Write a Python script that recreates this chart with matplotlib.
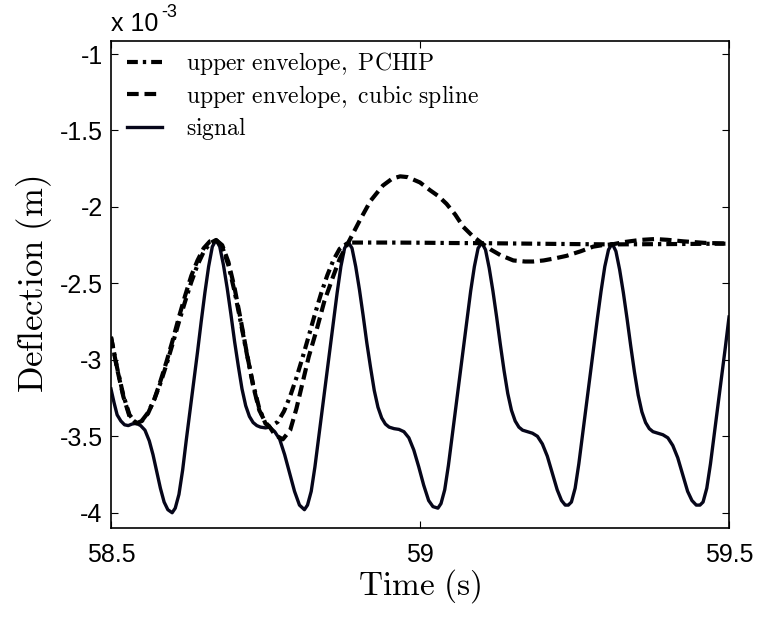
import matplotlib
matplotlib.use("Agg")
import matplotlib.pyplot as plt

plt.rcParams['mathtext.fontset'] = 'cm'
plt.rcParams['font.family'] = ['Liberation Sans', 'DejaVu Sans']

# deflection values are in units of 1e-3 m
signal_t = [
    58.500, 58.505, 58.510, 58.516, 58.522, 58.528, 58.534, 58.541, 58.548, 58.555,
    58.562, 58.568, 58.574, 58.580, 58.586, 58.592, 58.599,
    58.604, 58.610, 58.616, 58.622, 58.628, 58.634, 58.640, 58.646, 58.652, 58.658, 58.664, 58.670,
    58.676, 58.682, 58.688, 58.694, 58.700, 58.706, 58.712, 58.718, 58.724, 58.730, 58.736, 58.742,
    58.750, 58.757, 58.765, 58.773, 58.781, 58.789, 58.797, 58.805, 58.813,
    58.818, 58.824, 58.830, 58.836, 58.842, 58.848, 58.854, 58.860, 58.866, 58.872, 58.878, 58.884,
    58.890, 58.896, 58.902, 58.908, 58.914, 58.920, 58.926, 58.932, 58.938, 58.944, 58.950, 58.958,
    58.966, 58.974, 58.982, 58.990, 58.998, 59.006, 59.014, 59.021, 59.029,
    59.034, 59.040, 59.046, 59.052, 59.058, 59.064, 59.070, 59.076, 59.082, 59.088, 59.094, 59.100,
    59.106, 59.112, 59.118, 59.124, 59.130, 59.136, 59.142, 59.148, 59.154, 59.160, 59.166, 59.174,
    59.182, 59.190, 59.198, 59.206, 59.214, 59.222, 59.229, 59.235, 59.240,
    59.245, 59.251, 59.257, 59.263, 59.269, 59.275, 59.281, 59.287, 59.293, 59.299, 59.305, 59.311,
    59.317, 59.323, 59.329, 59.335, 59.341, 59.347, 59.353, 59.359, 59.365, 59.371, 59.377, 59.385,
    59.393, 59.401, 59.409, 59.417, 59.425, 59.433, 59.440, 59.447, 59.453,
    59.458, 59.464, 59.470, 59.476, 59.482, 59.488, 59.494, 59.500,
]
signal_v = [
    -3.19, -3.28, -3.36, -3.40, -3.425, -3.43, -3.42, -3.415, -3.43, -3.46,
    -3.53, -3.62, -3.73, -3.84, -3.93, -3.98, -4.00,
    -3.97, -3.88, -3.72, -3.52, -3.33, -3.14, -2.95, -2.75, -2.56, -2.39, -2.26, -2.216,
    -2.26, -2.38, -2.53, -2.70, -2.88, -3.04, -3.19, -3.30, -3.37, -3.41, -3.43, -3.44,
    -3.445, -3.44, -3.47, -3.52, -3.62, -3.74, -3.86, -3.95, -3.98,
    -3.95, -3.86, -3.70, -3.51, -3.32, -3.13, -2.94, -2.75, -2.56, -2.39, -2.27, -2.23,
    -2.27, -2.39, -2.54, -2.71, -2.89, -3.05, -3.20, -3.31, -3.38, -3.42, -3.44, -3.45,
    -3.455, -3.47, -3.51, -3.59, -3.70, -3.82, -3.92, -3.96, -3.97,
    -3.94, -3.85, -3.69, -3.50, -3.31, -3.12, -2.93, -2.74, -2.55, -2.39, -2.27, -2.235,
    -2.28, -2.40, -2.55, -2.72, -2.90, -3.07, -3.22, -3.33, -3.40, -3.44, -3.46, -3.47,
    -3.48, -3.50, -3.55, -3.63, -3.74, -3.85, -3.92, -3.95, -3.95,
    -3.93, -3.84, -3.68, -3.49, -3.30, -3.11, -2.92, -2.73, -2.55, -2.39, -2.28, -2.24,
    -2.29, -2.41, -2.56, -2.73, -2.91, -3.08, -3.23, -3.34, -3.41, -3.45, -3.47, -3.48,
    -3.49, -3.51, -3.56, -3.64, -3.75, -3.86, -3.92, -3.95, -3.95,
    -3.93, -3.84, -3.68, -3.49, -3.30, -3.11, -2.92, -2.72,
]

pchip_t = [
    58.500, 58.510, 58.520, 58.530, 58.541, 58.550, 58.560, 58.570, 58.580, 58.590,
    58.600, 58.610, 58.620, 58.630, 58.640, 58.650, 58.660, 58.670,
    58.680, 58.690, 58.700, 58.710, 58.720, 58.730, 58.740, 58.750, 58.757,
    58.770, 58.780, 58.790, 58.800, 58.810, 58.820, 58.830, 58.840, 58.850, 58.860, 58.870, 58.884,
    58.950, 59.000, 59.050, 59.100, 59.150, 59.200, 59.250, 59.311, 59.400, 59.500,
]
pchip_v = [
    -2.850, -3.053, -3.232, -3.360, -3.415, -3.398, -3.345, -3.260, -3.153, -3.028,
    -2.892, -2.752, -2.618, -2.491, -2.380, -2.294, -2.238, -2.216,
    -2.261, -2.381, -2.553, -2.755, -2.965, -3.160, -3.319, -3.417, -3.440,
    -3.405, -3.336, -3.237, -3.118, -2.985, -2.844, -2.701, -2.566, -2.447, -2.347, -2.274, -2.233,
    -2.233, -2.234, -2.236, -2.237, -2.239, -2.241, -2.243, -2.245, -2.243, -2.240,
]

spline_t = [
    58.500, 58.510, 58.520, 58.530, 58.541, 58.550, 58.560, 58.570, 58.580, 58.590,
    58.600, 58.610, 58.620, 58.630, 58.640, 58.650, 58.660, 58.670,
    58.680, 58.690, 58.700, 58.710, 58.720, 58.730, 58.740, 58.750, 58.757,
    58.765, 58.778, 58.790, 58.800, 58.810, 58.820, 58.833, 58.845, 58.859, 58.870, 58.884,
    58.903, 58.920, 58.940, 58.955, 58.968, 58.980, 59.000, 59.016, 59.030, 59.043, 59.057,
    59.070, 59.085, 59.100, 59.115, 59.130, 59.151, 59.170, 59.183, 59.200, 59.220, 59.237,
    59.260, 59.280, 59.295, 59.311, 59.330, 59.356, 59.380, 59.400, 59.426, 59.460, 59.500,
]
spline_v = [
    -2.85, -3.06, -3.24, -3.37, -3.415, -3.40, -3.35, -3.26, -3.14, -3.01,
    -2.87, -2.72, -2.58, -2.45, -2.35, -2.27, -2.225, -2.216,
    -2.25, -2.36, -2.53, -2.74, -2.96, -3.17, -3.33, -3.41, -3.44,
    -3.49, -3.52, -3.46, -3.32, -3.15, -2.98, -2.80, -2.62, -2.46, -2.34, -2.233,
    -2.085, -1.96, -1.86, -1.815, -1.80, -1.805, -1.84, -1.89, -1.93, -1.98, -2.05,
    -2.13, -2.19, -2.237, -2.28, -2.315, -2.35, -2.357, -2.357, -2.35, -2.335, -2.32,
    -2.29, -2.26, -2.25, -2.245, -2.23, -2.216, -2.21, -2.215, -2.225, -2.235, -2.24,
]

x_ticks = [58.5, 59, 59.5]
x_tick_labels = ['58.5', '59', '59.5']
y_ticks = [-4, -3.5, -3, -2.5, -2, -1.5, -1]
y_tick_labels = ['-4', '-3.5', '-3', '-2.5', '-2', '-1.5', '-1']

fig = plt.figure(figsize=(7.59, 6.17), dpi=100)
ax = fig.add_axes([0.1462, 0.1442, 0.8143, 0.7893])

ax.plot(pchip_t, pchip_v, color='black', lw=3.0, dashes=[2.6, 1.2, 0.8, 1.2],
        label=r'$\mathrm{upper\ envelope,\ PCHIP}$', zorder=3)
ax.plot(spline_t, spline_v, color='black', lw=3.0, dashes=[2.8, 1.4],
        label=r'$\mathrm{upper\ envelope,\ cubic\ spline}$', zorder=3)
ax.plot(signal_t, signal_v, color='#06061a', lw=2.4, solid_joinstyle='round',
        label=r'$\mathrm{signal}$', zorder=2)

ax.set_xlim(58.5, 59.5)
ax.set_ylim(-4.1, -0.915)
ax.set_xticks(x_ticks)
ax.set_xticklabels(x_tick_labels)
ax.set_yticks(y_ticks)
ax.set_yticklabels(y_tick_labels)
ax.tick_params(direction='in', length=5, width=0.8, labelsize=18, top=True, right=True, pad=6)
ax.tick_params(axis='x', pad=11)
for sp in ax.spines.values():
    sp.set_linewidth(1.2)

ax.set_xlabel(r'$\mathrm{Time\ (s)}$', fontsize=24, labelpad=0)
ax.set_ylabel(r'$\mathrm{Deflection\ (m)}$', fontsize=25, labelpad=4)

fig.text(0.146, 0.950, 'x 10', fontsize=18, ha='left', va='baseline')
fig.text(0.213, 0.972, '-3', fontsize=13, ha='left', va='baseline')

leg = ax.legend(loc='upper left', bbox_to_anchor=(0.01, 1.0), frameon=False, fontsize=17,
                handlelength=1.5, handletextpad=1.0, labelspacing=0.22, borderaxespad=0.0)

fig.savefig('out.png', dpi=100)
